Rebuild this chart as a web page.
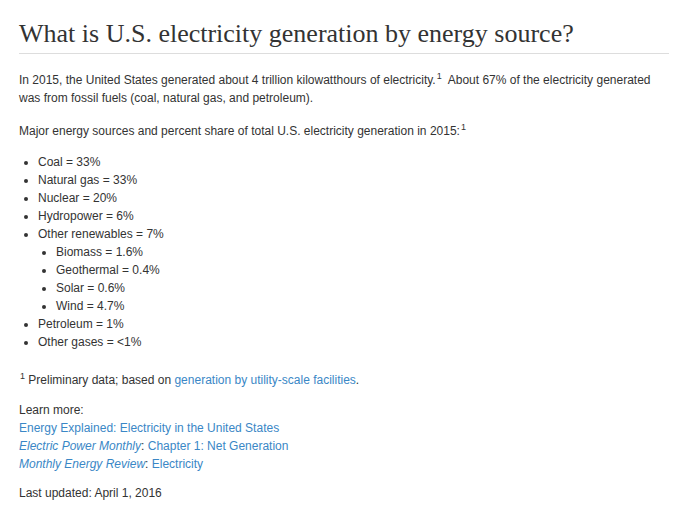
<!DOCTYPE html>
<html>
<head>
<meta charset="utf-8">
<script src="https://cdn.jsdelivr.net/npm/chart.js@4"></script>
<style>
  html, body { margin: 0; background: #fff; }
  body { width: 689px; height: 513px; overflow: hidden; font-family: "Liberation Sans", Arial, sans-serif; font-size: 12px; color: #333; }
  #pagina { position: relative; padding: 0 20px 0 19px; }
  h1 { font-family: "Liberation Serif", "Times New Roman", serif; font-weight: normal; font-size: 26px; margin: 0; padding-top: 19px; padding-bottom: 4px; border-bottom: 1px solid #ddd; line-height: 30px; }
  p { margin: 0; line-height: 18px; }
  sup { font-size: 9px; display: inline-block; line-height: 9px; vertical-align: 5px; margin-left: 1px; }
  a { color: #3a87c6; text-decoration: none; }
  ul { margin: 0; padding-left: 19px; line-height: 18px; list-style: disc; }
  ul ul { padding-left: 18px; list-style: disc; }
</style>
</head>
<body>
<div id="pagina">
  <h1>What is U.S. electricity generation by energy source?</h1>
  <p style="margin-top:17px">In 2015, the United States generated about 4 trillion kilowatthours of electricity.<sup>1</sup>&nbsp; About 67% of the electricity generated was from fossil fuels (coal, natural gas, and petroleum).</p>
  <p style="margin-top:15px">Major energy sources and percent share of total U.S. electricity generation in 2015:<sup>1</sup></p>
  <ul id="lista" style="margin-top:13px"></ul>
  <p style="margin-top:20px"><sup>1</sup> Preliminary data; based on <a href="#">generation by utility-scale facilities</a>.</p>
  <p style="margin-top:12px">Learn more:<br>
    <a href="#">Energy Explained: Electricity in the United States</a><br>
    <a href="#"><i>Electric Power Monthly</i></a>: <a href="#">Chapter 1: Net Generation</a><br>
    <a href="#"><i>Monthly Energy Review</i></a>: <a href="#">Electricity</a></p>
  <p style="margin-top:11px">Last updated: April 1, 2016</p>
</div>
<script>
// fontes principais e participação (%) em 2015
const fontes = ['Coal', 'Natural gas', 'Nuclear', 'Hydropower', 'Other renewables', 'Petroleum', 'Other gases'];
const participacao = ['33%', '33%', '20%', '6%', '7%', '1%', '<1%'];
// detalhe de "Other renewables"
const renovaveis = ['Biomass', 'Geothermal', 'Solar', 'Wind'];
const participacaoRenovaveis = ['1.6%', '0.4%', '0.6%', '4.7%'];

function montarLista() {
  const ul = document.getElementById('lista');
  fontes.forEach((fonte, i) => {
    const li = document.createElement('li');
    li.textContent = fonte + ' = ' + participacao[i];
    if (fonte === 'Other renewables') {
      const sub = document.createElement('ul');
      renovaveis.forEach((r, j) => {
        const item = document.createElement('li');
        item.textContent = r + ' = ' + participacaoRenovaveis[j];
        sub.appendChild(item);
      });
      li.appendChild(sub);
    }
    ul.appendChild(li);
  });
}
montarLista();
</script>
</body>
</html>
